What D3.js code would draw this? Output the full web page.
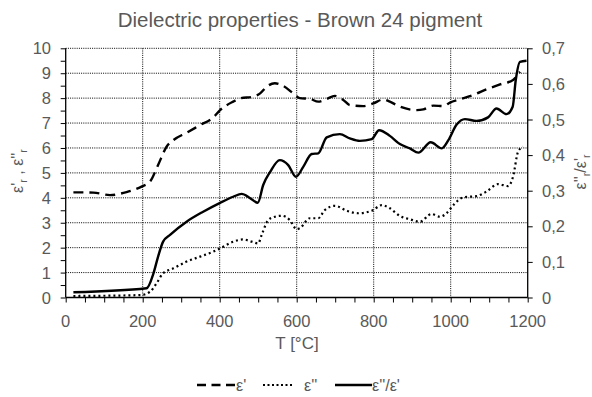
<!DOCTYPE html>
<html><head><meta charset="utf-8">
<script src="https://cdn.jsdelivr.net/npm/d3@7"></script>
<style>body{margin:0;background:#fff}svg{display:block}text{font-family:"Liberation Sans",Arial,sans-serif;fill:#595959}</style>
</head><body><svg id="c" width="592" height="397"></svg>
<script>
// ε' (left axis)
const epsT = [20,72,115,158,197,219,240,262,280,314,349,383,401,435,453,487,505,522,543,565,591,608,634,656,678,699,721,738,773,799,825,842,868,912,929,955,981,998,1024,1059,1093,1128,1162,1180];
const epsV = [4.22,4.21,4.11,4.23,4.45,4.65,5.32,6.05,6.32,6.61,6.92,7.22,7.52,7.86,7.99,8.06,8.19,8.46,8.6,8.49,8.19,8.0,7.97,7.86,7.97,8.09,7.93,7.72,7.68,7.79,7.95,7.86,7.66,7.52,7.55,7.7,7.68,7.82,7.95,8.13,8.35,8.55,8.73,9.06];
// ε'' (left axis)
const eps2T = [20,100,197,219,236,253,280,314,349,383,401,435,461,483,500,509,526,543,561,582,600,608,634,656,673,699,730,760,795,821,842,868,894,920,950,972,989,1007,1033,1067,1093,1123,1149,1162,1175,1188];
const eps2V = [0.06,0.07,0.1,0.23,0.57,0.97,1.17,1.44,1.64,1.84,1.97,2.24,2.33,2.24,2.17,2.51,3.11,3.24,3.28,3.11,2.74,2.78,3.18,3.18,3.51,3.68,3.48,3.38,3.48,3.71,3.58,3.27,3.14,3.04,3.35,3.24,3.38,3.71,4.02,4.07,4.25,4.55,4.47,4.85,5.85,6.05];
// ε''/ε' (right axis)
const ratT = [20,210,228,240,253,271,314,357,401,435,457,479,499,513,531,556,578,598,617,639,656,678,712,738,764,795,814,842,868,894,916,948,977,994,1015,1037,1067,1097,1119,1145,1161,1169,1180,1197];
const ratV = [0.0146,0.026,0.068,0.115,0.157,0.176,0.213,0.241,0.266,0.283,0.291,0.279,0.266,0.316,0.353,0.386,0.372,0.339,0.367,0.403,0.405,0.45,0.459,0.447,0.44,0.445,0.47,0.454,0.431,0.419,0.407,0.436,0.419,0.442,0.485,0.501,0.496,0.506,0.531,0.515,0.536,0.611,0.662,0.665];

const xTicks = [0,200,400,600,800,1000,1200];
const yTicks = [0,1,2,3,4,5,6,7,8,9,10];
const y2Ticks = [0,0.1,0.2,0.3,0.4,0.5,0.6,0.7];
const y2Labels = ["0","0,1","0,2","0,3","0,4","0,5","0,6","0,7"];

const svg = d3.select("#c");
const L=65.7, R=527.7, T=48.3, B=297.5;
const x = d3.scaleLinear().domain([0,1200]).range([L,R]);
const y = d3.scaleLinear().domain([0,10]).range([B,T]);
const y2 = d3.scaleLinear().domain([0,0.7]).range([B,T]);

// grid
const g = svg.append("g");
g.selectAll(".hg").data(yTicks.filter(d=>d>0)).join("line")
 .attr("x1",L).attr("x2",R).attr("y1",d=>y(d)).attr("y2",d=>y(d))
 .attr("stroke","#000").attr("stroke-width",1).attr("stroke-dasharray","1,1.2");
g.selectAll(".vg").data(xTicks.filter(d=>d>0&&d<1200)).join("line")
 .attr("y1",T).attr("y2",B).attr("x1",d=>x(d)).attr("x2",d=>x(d))
 .attr("stroke","#000").attr("stroke-width",1).attr("stroke-dasharray","1,1.2");

// axes
const minorY = d3.range(0,10.01,0.5);
const ax = svg.append("g");
ax.append("g").attr("transform",`translate(${L},0)`)
 .call(d3.axisLeft(y).tickValues(minorY).tickSize(5).tickFormat(""));
ax.append("g").attr("transform",`translate(${R},0)`)
 .call(d3.axisRight(y2).tickValues(y2Ticks).tickSize(5).tickFormat(""));
ax.append("g").attr("transform",`translate(0,${B})`)
 .call(d3.axisBottom(x).tickValues(d3.range(0,1201,50)).tickSize(5).tickFormat(""));
ax.selectAll(".tick line").attr("stroke","#000");
ax.selectAll(".domain").remove();
svg.append("line").attr("x1",L).attr("x2",L).attr("y1",T).attr("y2",B).attr("stroke","#000").attr("stroke-width",1.3);
svg.append("line").attr("x1",R).attr("x2",R).attr("y1",T).attr("y2",B).attr("stroke","#000").attr("stroke-width",1.3);
svg.append("line").attr("x1",L).attr("x2",R).attr("y1",B).attr("y2",B).attr("stroke","#000").attr("stroke-width",1.3);

// tick labels
svg.selectAll(".yl").data(yTicks).join("text").attr("x",51).attr("y",d=>y(d)+6)
 .attr("text-anchor","end").attr("font-size",16.5).text(d=>d);
svg.selectAll(".y2l").data(y2Ticks).join("text").attr("x",542).attr("y",d=>y2(d)+6)
 .attr("text-anchor","start").attr("font-size",16.5).text((d,i)=>y2Labels[i]);
svg.selectAll(".xl").data(xTicks).join("text").attr("x",d=>x(d)).attr("y",326.5)
 .attr("text-anchor","middle").attr("font-size",16.5).text(d=>d);

// titles
svg.append("text").attr("x",300).attr("y",26.5).attr("text-anchor","middle").attr("font-size",20.5)
 .text("Dielectric properties - Brown 24 pigment");
svg.append("text").attr("x",297).attr("y",349).attr("text-anchor","middle").attr("font-size",17).text("T [°C]");
const yl = svg.append("text").attr("transform","translate(23,171) rotate(-90)").attr("text-anchor","middle").attr("font-size",16);
yl.append("tspan").text("ε'");
yl.append("tspan").attr("font-size",10.5).attr("dy",4).text("r");
yl.append("tspan").attr("dy",-4).text(" , ε''");
yl.append("tspan").attr("font-size",10.5).attr("dy",4).text("r");
const yr = svg.append("text").attr("transform","translate(586,172) rotate(-90)").attr("text-anchor","middle").attr("font-size",16);
yr.append("tspan").text("ε''");
yr.append("tspan").attr("font-size",10.5).attr("dy",4).text("r");
yr.append("tspan").attr("dy",-4).text("/ε'");
yr.append("tspan").attr("font-size",10.5).attr("dy",4).text("r");

// series
const curve = d3.curveMonotoneX;
const line1 = d3.line().x(d=>x(d[0])).y(d=>y(d[1])).curve(curve);
const line2 = d3.line().x(d=>x(d[0])).y(d=>y2(d[1])).curve(curve);
svg.append("path").attr("d",line1(d3.zip(epsT,epsV))).attr("fill","none").attr("stroke","#000")
 .attr("stroke-width",2.4).attr("stroke-dasharray","10,6");
svg.append("path").attr("d",line1(d3.zip(eps2T,eps2V))).attr("fill","none").attr("stroke","#000")
 .attr("stroke-width",2.2).attr("stroke-dasharray","2,3");
svg.append("path").attr("d",line2(d3.zip(ratT,ratV))).attr("fill","none").attr("stroke","#000")
 .attr("stroke-width",2.4);

// legend
const lg = svg.append("g");
const ly = 385;
lg.append("line").attr("x1",197).attr("x2",235).attr("y1",ly).attr("y2",ly).attr("stroke","#000").attr("stroke-width",2.6).attr("stroke-dasharray","9,5.5");
lg.append("text").attr("x",236).attr("y",ly+5.5).attr("font-size",16).text("ε'");
lg.append("line").attr("x1",263).attr("x2",294).attr("y1",ly).attr("y2",ly).attr("stroke","#000").attr("stroke-width",2).attr("stroke-dasharray","2,2.5");
lg.append("text").attr("x",304).attr("y",ly+5.5).attr("font-size",16).text("ε''");
lg.append("line").attr("x1",335).attr("x2",372).attr("y1",ly).attr("y2",ly).attr("stroke","#000").attr("stroke-width",2.6);
lg.append("text").attr("x",372).attr("y",ly+5.5).attr("font-size",16).text("ε''/ε'");
</script></body></html>
